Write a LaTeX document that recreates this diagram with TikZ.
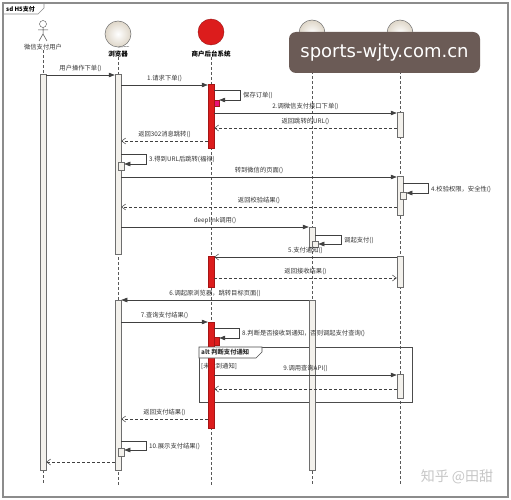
\documentclass[tikz,border=0pt]{standalone}
\usepackage{fontspec}
\setmainfont{Noto Sans CJK SC}
\newfontfamily\wmfont{DejaVu Sans}
\usetikzlibrary{arrows.meta}

\definecolor{barfill}{HTML}{F3F1EC}
\definecolor{barline}{HTML}{6E6E6E}
\definecolor{merred}{HTML}{DC1C1C}
\definecolor{wmbox}{HTML}{6B5B56}

\tikzset{
  lifeline/.style={draw=black!65, dash pattern=on 3pt off 2pt, line width=0.5pt},
  actbar/.style={draw=barline, fill=barfill, minimum width=6pt, inner sep=0pt, line width=0.5pt},
  redbar/.style={draw=merred!75!black, fill=merred, minimum width=6pt, inner sep=0pt, line width=0.4pt},
  msg/.style={draw=black!75, line width=0.5pt, -{Triangle[length=6pt,width=4.5pt]}},
  retmsg/.style={draw=black!75, line width=0.5pt, dash pattern=on 3pt off 2pt, -{Straight Barb[length=4pt,width=6pt]}},
  asyncmsg/.style={draw=black!75, line width=0.5pt, -{Straight Barb[length=4pt,width=6pt]}},
  lbl/.style={font=\fontsize{6.3}{7}\selectfont, text=black!80, inner sep=0pt},
  head/.style={font=\fontsize{6.5}{7}\selectfont\bfseries, inner sep=0pt},
  party/.style={circle, draw=barline, inner color=white, outer color={rgb,255:red,222;green,214;blue,200}, minimum size=26pt, inner sep=0pt, line width=0.5pt}
}

\begin{document}
\begin{tikzpicture}[x=1pt,y=-1pt]
\useasboundingbox[fill=white] (0,0) rectangle (511,500);
% frame
\draw[draw=black!45, line width=1.2pt] (3,3) rectangle (508,497);
\draw[draw=black!45, line width=0.7pt] (3,14) -- (38,14) -- (44,8) -- (44,3);
\node[head, anchor=west, font=\fontsize{6}{7}\selectfont\bfseries] (sdlbl) at (6,9) {sd H5支付};

% participants
\node[circle, draw=black!70, minimum size=7pt, inner sep=0pt] (uhead) at (43,24) {};
\draw[black!70, line width=0.5pt] (uhead.south) -- (43,34) -- (39,41) (43,34) -- (47,41) (38,30) -- (48,30);
\node[lbl] (ulbl) at (43,47) {微信支付用户};
\node[party] (brw) at (118,34) {};
\draw[barline] (brw.south) -- ++(11,-1);
\node[head] (brwlbl) at (118,54) {浏览器};
\node[circle, draw=merred!70!black, fill=merred, minimum size=26pt, inner sep=0pt] (mer) at (211,32) {};
\node[head] (merlbl) at (211,54) {商户后台系统};
\node[party] (wcl) at (312,33) {};
\draw[barline] (wcl.south) -- ++(11,-1);
\node[party] (wsv) at (400,33) {};
\draw[barline] (wsv.south) -- ++(11,-1);

% lifelines
\draw[lifeline] (ulbl.south) -- (43,485);
\draw[lifeline] (brwlbl.south) -- (118,485);
\draw[lifeline] (merlbl.south) -- (211,485);
\draw[lifeline] (wcl.south) -- (312,485);
\draw[lifeline] (wsv.south) -- (400,485);

% alt fragment (guard lies under the bars)
\draw[black!70, line width=0.6pt] (199,347) rectangle (412,402);
\node[lbl, anchor=west] (guard) at (201,366) {[未收到通知]};

% activation bars
\node[actbar, minimum height=396pt] (ua) at (43,272) {};
\node[actbar, minimum height=180pt] (ba1) at (118,164) {};
\node[actbar, minimum height=170pt] (ba2) at (118,385) {};
\node[actbar, minimum height=8pt] (bs1) at (121,166) {};
\node[actbar, minimum height=8pt] (bs2) at (121,452.5) {};
\node[redbar, minimum height=64pt] (mb1) at (211,116) {};
\node[redbar, fill=merred!60!magenta, minimum width=5pt, minimum height=6pt] (mb1s) at (216.5,103) {};
\node[redbar, minimum height=31pt] (mb2) at (211,272) {};
\node[redbar, minimum height=106pt] (mb3) at (211,375) {};
\node[redbar, minimum width=5pt, minimum height=8pt] (mb3s) at (216.5,341) {};
\node[actbar, minimum height=20pt] (wa1) at (312,237) {};
\node[actbar, minimum height=6pt] (ws1) at (315,244) {};
\node[actbar, minimum height=170pt] (wa2) at (312,385) {};
\node[actbar, minimum height=25pt] (pb1) at (400,124.5) {};
\node[actbar, minimum height=39pt] (pb2) at (400,195.5) {};
\node[actbar, minimum height=7pt] (pbs) at (403,196) {};
\node[actbar, minimum height=31pt] (pb3) at (400,271.5) {};
\node[actbar, minimum height=24pt] (pb4) at (400,386) {};

% alt tab over the bar
\filldraw[fill=white, draw=black!70, line width=0.6pt] (199,347) -- (199,358) -- (256,358) -- (262,352) -- (262,347) -- cycle;
\node[lbl, anchor=west, font=\fontsize{6.3}{7}\selectfont\bfseries] (altlbl) at (201,352.5) {alt 判断支付通知};

% messages
\draw[msg] (ua.east |- 0,75) -- (ba1.west |- 0,75) node[lbl, midway, above=3pt] {用户操作下单()};
\draw[msg] (ba1.east |- 0,85) -- (mb1.west |- 0,85) node[lbl, midway, above=3pt] {1.请求下单()};
\draw[msg] (mb1.east |- 0,90) -| (240,100) -- (mb1s.east |- 0,100);
\node[lbl, anchor=west] (m1) at (243,95) {保存订单()};
\draw[msg] (mb1.east |- 0,113) -- (pb1.west |- 0,113) node[lbl, midway, above=3pt] {2.调微信支付接口下单()};
\draw[retmsg] (pb1.west |- 0,128) -- (mb1.east |- 0,128) node[lbl, midway, above=3pt] {返回跳转的URL()};
\draw[retmsg] (mb1.west |- 0,141) -- (ba1.east |- 0,141) node[lbl, midway, above=3pt] {返回302消息跳转()};
\draw[msg] (ba1.east |- 0,154) -| (146,164) -- (bs1.east |- 0,164);
\node[lbl, anchor=west] (m3) at (149,159) {3.得到URL后跳转(福禄)};
\draw[msg] (ba1.east |- 0,177) -- (pb2.west |- 0,177) node[lbl, midway, above=3pt] {转到微信的页面()};
\draw[msg] (pb2.east |- 0,183) -| (428,193) -- (pbs.east |- 0,193);
\node[lbl, anchor=west] (m4) at (431,189) {4.校验权限，安全性()};
\draw[retmsg] (pb2.west |- 0,207) -- (ba1.east |- 0,207) node[lbl, midway, above=3pt] {返回校验结果()};
\draw[msg] (ba1.east |- 0,227) -- (wa1.west |- 0,227) node[lbl, midway, above=3pt] {deeplink调用()};
\draw[msg] (wa1.east |- 0,235) -| (341,244) -- (ws1.east |- 0,244);
\node[lbl, anchor=west] (m5) at (344,240) {调起支付()};
\draw[asyncmsg] (pb3.west |- 0,257) -- (mb2.east |- 0,257) node[lbl, pos=0.5, above=3pt] {5.支付通知()};
\draw[retmsg] (mb2.east |- 0,278) -- (pb3.west |- 0,278) node[lbl, midway, above=3pt] {返回接收结果()};
\draw[msg] (wa2.west |- 0,300) -- (ba2.east |- 0,300) node[lbl, midway, above=3pt] {6.调起原浏览器，跳转目标页面()};
\draw[msg] (ba2.east |- 0,322) -- (mb3.west |- 0,322) node[lbl, midway, above=3pt] {7.查询支付结果()};
\draw[msg] (mb3.east |- 0,328) -| (239,338) -- (mb3s.east |- 0,338);
\node[lbl, anchor=west] (m8) at (242,333) {8.判断是否接收到通知，否则调起支付查询()};
\draw[msg] (mb3.east |- 0,375) -- (pb4.west |- 0,375) node[lbl, midway, above=3pt] {9.调用查询API()};
\draw[retmsg] (pb4.west |- 0,389) -- (mb3.east |- 0,389);
\draw[retmsg] (mb3.west |- 0,419) -- (ba2.east |- 0,419) node[lbl, midway, above=3pt] {返回支付结果()};
\draw[msg] (ba2.east |- 0,441) -| (146,450) -- (bs2.east |- 0,450);
\node[lbl, anchor=west] (m10) at (149,446) {10.展示支付结果()};
\draw[retmsg] (ba2.west |- 0,462) -- (ua.east |- 0,462);

% watermarks
\node[fill=wmbox, rounded corners=7pt, minimum width=191pt, minimum height=41pt, text=white, font=\wmfont\fontsize{18}{18}\selectfont] (wm) at (384.5,52.5) {sports-wjty.com.cn};
\node[text=black!22, font=\fontsize{14}{14}\selectfont] (zh) at (457,477) {知乎 @田甜};
\end{tikzpicture}
\end{document}
